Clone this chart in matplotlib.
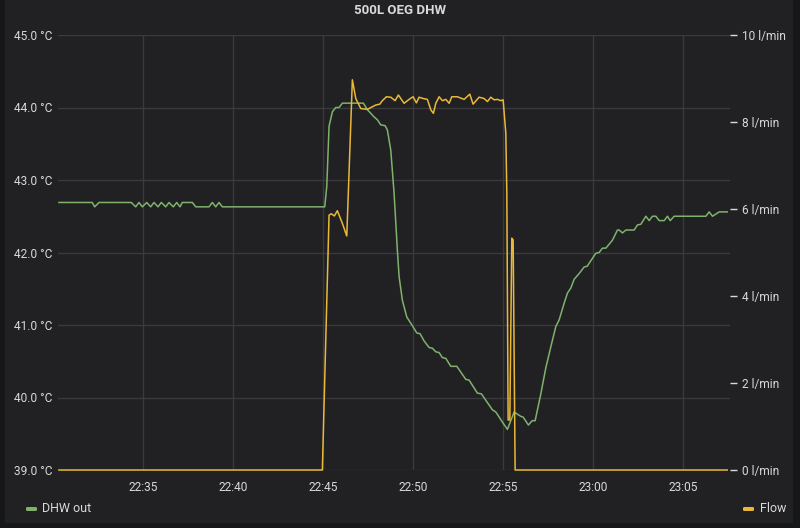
import matplotlib
matplotlib.use("Agg")
import matplotlib.pyplot as plt
from matplotlib.patches import FancyBboxPatch, Rectangle

plt.rcParams['font.family'] = ['Roboto', 'DejaVu Sans']

# ---- data (minutes after 22:30) ----
dhw_t = [0.333, 2.183, 2.317, 2.556, 4.35, 4.594, 4.778, 4.961, 5.206, 5.428, 5.611, 5.833,
         6.017, 6.261, 6.444, 6.683, 6.872, 7.056, 7.183, 7.739, 7.928, 8.667, 8.85, 9.039,
         9.222, 9.406, 15.094, 15.206, 15.333, 15.517, 15.706, 15.889, 16.072, 17.239, 17.461,
         17.65, 17.833, 18.017, 18.206, 18.444, 18.572, 18.761, 18.944, 19.128, 19.222, 19.406,
         19.65, 19.961, 20.206, 20.389, 20.611, 20.889, 21.072, 21.261, 21.444, 21.628, 21.817,
         22.094, 22.428, 22.928, 23.111, 23.572, 23.794, 24.406, 24.594, 25.017, 25.239, 25.611,
         25.794, 25.983, 26.111, 26.406, 26.611, 26.778, 27.094, 27.372, 27.65, 27.928, 28.111,
         28.389, 28.572, 28.761, 28.944, 29.222, 29.5, 29.667, 29.961, 30.15, 30.333, 30.517,
         30.706, 31.072, 31.35, 31.444, 31.628, 31.817, 32.278, 32.461, 32.65, 32.928, 33.111,
         33.294, 33.483, 33.667, 33.944, 34.128, 34.278, 34.5, 36.261, 36.444, 36.628, 37.0,
         37.444]
dhw_v = [42.69, 42.69, 42.63, 42.69, 42.69, 42.63, 42.69, 42.63, 42.69, 42.63, 42.69, 42.63,
         42.69, 42.63, 42.69, 42.63, 42.69, 42.63, 42.69, 42.69, 42.63, 42.63, 42.69, 42.63,
         42.69, 42.63, 42.63, 42.91, 43.74, 43.94, 44.00, 44.00, 44.06, 44.06, 43.97,
         43.92, 43.87, 43.83, 43.76, 43.75, 43.69, 43.41, 42.82, 42.03, 41.67, 41.34,
         41.11, 40.99, 40.89, 40.88, 40.78, 40.69, 40.68, 40.63, 40.62, 40.55, 40.54,
         40.43, 40.43, 40.25, 40.24, 40.06, 40.05, 39.83, 39.80, 39.64, 39.56, 39.80,
         39.77, 39.74, 39.73, 39.62, 39.68, 39.68, 40.05, 40.41, 40.70, 40.98, 41.07,
         41.30, 41.44, 41.51, 41.63, 41.71, 41.80, 41.81, 41.92, 41.99, 42.00, 42.06,
         42.06, 42.17, 42.31, 42.31, 42.27, 42.31, 42.31, 42.38, 42.39, 42.50, 42.44,
         42.50, 42.50, 42.44, 42.44, 42.50, 42.44, 42.50, 42.50, 42.56, 42.50, 42.56,
         42.56]

flow_t = [0.333, 14.961, 15.333, 15.461, 15.628, 15.794, 16.072, 16.317, 16.628, 16.817, 17.094,
          17.461, 17.739, 17.928, 18.15, 18.294, 18.517, 18.761, 19.0, 19.183, 19.317, 19.5,
          19.778, 20.0, 20.183, 20.333, 20.556, 20.794, 20.983, 21.128, 21.261, 21.444, 21.628,
          21.817, 22.0, 22.15, 22.461, 22.833, 23.15, 23.333, 23.667, 23.944, 24.128, 24.317,
          24.5, 24.683, 24.872, 25.0, 25.15, 25.206, 25.278, 25.372, 25.483, 25.556, 25.667,
          37.444]
flow_v = [0, 0, 5.86, 5.89, 5.84, 5.96, 5.67, 5.38, 8.97, 8.54, 8.31,
          8.29, 8.35, 8.39, 8.41, 8.49, 8.58, 8.57, 8.49, 8.62, 8.54, 8.43,
          8.52, 8.58, 8.44, 8.57, 8.54, 8.52, 8.28, 8.20, 8.43, 8.58, 8.49,
          8.52, 8.43, 8.58, 8.58, 8.52, 8.64, 8.41, 8.57, 8.54, 8.47, 8.57,
          8.51, 8.52, 8.49, 8.51, 7.74, 6.37, 1.15, 1.15, 5.33, 5.29, 0,
          0]

x_ticks = [5, 10, 15, 20, 25, 30, 35]
x_labels = ["22:35", "22:40", "22:45", "22:50", "22:55", "23:00", "23:05"]
temp_ticks = [39, 40, 41, 42, 43, 44, 45]
flow_ticks = [0, 2, 4, 6, 8, 10]

title = "500L OEG DHW"
series_names = ["DHW out", "Flow"]

# ---- style ----
PAGE_BG = "#161719"
PANEL_BG = "#212124"
GRID = "#3a3a3d"
TEXT = "#d8d9da"
GREEN = "#7eb26d"
YELLOW = "#eab839"

W, H = 800, 528
fig = plt.figure(figsize=(8, 5.28), dpi=100)
fig.patch.set_facecolor(PAGE_BG)
panel = Rectangle((5 / W, 5 / H), 788 / W, (H - 5) / H, transform=fig.transFigure,
                  facecolor=PANEL_BG, edgecolor="none", zorder=-10)
fig.patches.append(panel)

ax = fig.add_axes([58 / W, 1 - 470 / H, 672 / W, 435 / H])
ax.patch.set_alpha(0)
for s in ax.spines.values():
    s.set_visible(False)

ax.set_xlim(0.28, 37.6)
ax.set_ylim(39, 45)
ax.set_xticks(x_ticks)
ax.set_xticklabels(x_labels)
ax.set_yticks(temp_ticks)
ax.set_yticklabels([f"{v:.1f} °C" for v in temp_ticks])
ax.tick_params(axis='x', length=0, pad=8, colors=TEXT, labelsize=8.6)
ax.tick_params(axis='y', length=0, pad=4, colors=TEXT, labelsize=8.6)
ax.grid(True, color=GRID, linewidth=1)
ax.set_axisbelow(True)

ax2 = ax.twinx()
ax2.patch.set_alpha(0)
for s in ax2.spines.values():
    s.set_visible(False)
ax2.set_ylim(0, 10)
ax2.set_yticks(flow_ticks)
ax2.set_yticklabels([f"{v} l/min" for v in flow_ticks])
ax2.tick_params(axis='y', length=5, width=1, pad=4, colors=TEXT, labelsize=8.6)
for tl in ax2.yaxis.get_ticklines():
    tl.set_color("#444447")

ax.plot(dhw_t, dhw_v, color=GREEN, linewidth=1.1, zorder=3, clip_on=False)
ax2.plot(flow_t, flow_v, color=YELLOW, linewidth=1.1, zorder=3, clip_on=False)

fig.text(0.5, 1 - 10 / H, title, ha="center", va="center", color=TEXT,
         fontsize=9.5, fontweight="bold")

# legend
ly = 1 - 509 / H
fig.patches.append(FancyBboxPatch((26 / W, ly - 2 / H), 11 / W, 4 / H,
                                  boxstyle="round,pad=0,rounding_size=0.002",
                                  transform=fig.transFigure, facecolor=GREEN, edgecolor="none"))
fig.text(42 / W, ly, series_names[0], ha="left", va="center", color=TEXT, fontsize=9)
fig.patches.append(FancyBboxPatch((743 / W, ly - 2 / H), 11 / W, 4 / H,
                                  boxstyle="round,pad=0,rounding_size=0.002",
                                  transform=fig.transFigure, facecolor=YELLOW, edgecolor="none"))
fig.text(760 / W, ly, series_names[1], ha="left", va="center", color=TEXT, fontsize=9)

fig.savefig("out.png", dpi=100, facecolor=PAGE_BG)
